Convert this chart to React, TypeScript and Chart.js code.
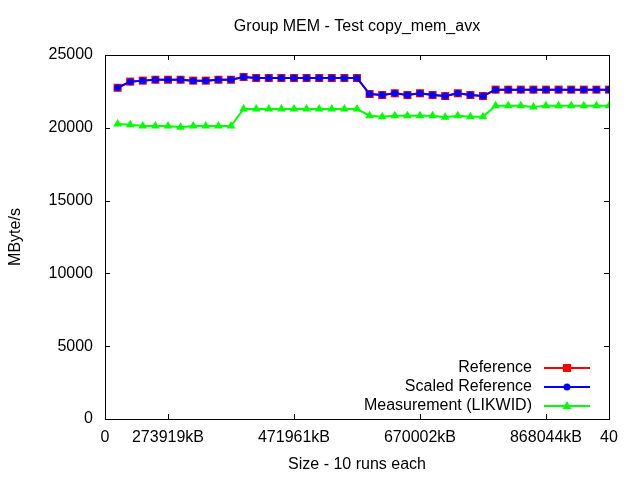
import React, { useEffect, useRef } from 'react';
import Chart from 'chart.js/auto';

const xPositions = [1, 2, 3, 4, 5, 6, 7, 8, 9, 10, 11, 12, 13, 14, 15, 16, 17, 18, 19, 20, 21, 22, 23, 24, 25, 26, 27, 28, 29, 30, 31, 32, 33, 34, 35, 36, 37, 38, 39, 40];

const referenceValues = [
  22750, 23170, 23240, 23300, 23300, 23300, 23240, 23240, 23300, 23300,
  23490, 23420, 23420, 23420, 23420, 23420, 23420, 23420, 23420, 23420,
  22320, 22250, 22370, 22250, 22370, 22250, 22180, 22370, 22250, 22180,
  22620, 22620, 22620, 22620, 22620, 22620, 22620, 22620, 22620, 22620,
];

const scaledReferenceValues = [
  22750, 23170, 23240, 23300, 23300, 23300, 23240, 23240, 23300, 23300,
  23490, 23420, 23420, 23420, 23420, 23420, 23420, 23420, 23420, 23420,
  22320, 22250, 22370, 22250, 22370, 22250, 22180, 22370, 22250, 22180,
  22620, 22620, 22620, 22620, 22620, 22620, 22620, 22620, 22620, 22620,
];

const measurementValues = [
  20260, 20210, 20120, 20120, 20120, 20030, 20120, 20120, 20120, 20120,
  21290, 21290, 21290, 21290, 21290, 21290, 21290, 21290, 21290, 21290,
  20830, 20760, 20830, 20830, 20830, 20830, 20720, 20830, 20760, 20760,
  21520, 21520, 21520, 21430, 21520, 21520, 21520, 21520, 21520, 21520,
];

const xTickValues = [0, 5, 15, 25, 35, 40];
const xTickLabels = ['0', '273919kB', '471961kB', '670002kB', '868044kB', '40'];
const yTickValues = [0, 5000, 10000, 15000, 20000, 25000];

const titleText = 'Group MEM - Test copy_mem_avx';
const xTitle = 'Size - 10 runs each';
const yTitle = 'MByte/s';
const seriesNames = ['Reference', 'Scaled Reference', 'Measurement (LIKWID)'];
const seriesColors = ['#ff0000', '#0000ff', '#00ff00'];

const FONT = "'Liberation Sans', Arial, sans-serif";

function drawMarker(ctx: CanvasRenderingContext2D, kind: number, x: number, y: number, color: string) {
  ctx.save();
  ctx.fillStyle = color;
  ctx.beginPath();
  if (kind === 0) {
    ctx.rect(x - 4, y - 4, 8, 8);
  } else if (kind === 1) {
    ctx.arc(x, y, 3.5, 0, Math.PI * 2);
  } else {
    ctx.moveTo(x, y - 5);
    ctx.lineTo(x + 4.5, y + 3);
    ctx.lineTo(x - 4.5, y + 3);
    ctx.closePath();
  }
  ctx.fill();
  ctx.restore();
}

const decorPlugin = {
  id: 'gnuplotDecor',
  afterDraw(chart: any) {
    const ctx: CanvasRenderingContext2D = chart.ctx;
    const { left, right, top, bottom } = chart.chartArea;
    const xs = chart.scales.x;
    const ys = chart.scales.y;
    ctx.save();
    // frame
    ctx.strokeStyle = '#000';
    ctx.lineWidth = 1;
    ctx.strokeRect(Math.round(left) + 0.5, Math.round(top) + 0.5, Math.round(right - left), Math.round(bottom - top));
    // tick marks
    ctx.beginPath();
    for (const v of yTickValues) {
      const py = Math.round(ys.getPixelForValue(v)) + 0.5;
      ctx.moveTo(left, py); ctx.lineTo(left + 5, py);
      ctx.moveTo(right, py); ctx.lineTo(right - 5, py);
    }
    for (const v of xTickValues) {
      const px = Math.round(xs.getPixelForValue(v)) + 0.5;
      ctx.moveTo(px, bottom); ctx.lineTo(px, bottom - 5);
      ctx.moveTo(px, top); ctx.lineTo(px, top + 5);
    }
    ctx.stroke();

    // titles
    ctx.fillStyle = '#000';
    ctx.font = `16px ${FONT}`;
    ctx.textAlign = 'center';
    ctx.textBaseline = 'middle';
    const cx = (left + right) / 2;
    ctx.fillText(titleText, cx, 27);
    ctx.fillText(xTitle, cx, 465);
    ctx.save();
    ctx.translate(16, (top + bottom) / 2);
    ctx.rotate(-Math.PI / 2);
    ctx.fillText(yTitle, 0, 0);
    ctx.restore();

    // legend
    const textRight = right - 77;
    const lineStart = right - 65;
    const lineEnd = right - 19;
    const markX = (lineStart + lineEnd) / 2;
    chart.data.datasets.forEach((ds: any, i: number) => {
      const y = bottom - 51 + i * 19;
      ctx.fillStyle = '#000';
      ctx.textAlign = 'right';
      ctx.textBaseline = 'middle';
      ctx.fillText(ds.label, textRight, y);
      ctx.strokeStyle = ds.borderColor;
      ctx.lineWidth = 2;
      ctx.beginPath();
      ctx.moveTo(lineStart, y);
      ctx.lineTo(lineEnd, y);
      ctx.stroke();
      drawMarker(ctx, i, markX, y, ds.borderColor);
    });
    ctx.restore();
  },
};

export default function App() {
  const canvasRef = useRef<HTMLCanvasElement | null>(null);

  useEffect(() => {
    document.body.style.margin = '0';
    const canvas = canvasRef.current;
    if (!canvas) return;
    const mk = (vals: number[]) => vals.map((v, i) => ({ x: xPositions[i], y: v }));
    const chart = new Chart(canvas, {
      type: 'line',
      data: {
        datasets: [
          {
            label: seriesNames[0],
            data: mk(referenceValues),
            borderColor: seriesColors[0],
            backgroundColor: seriesColors[0],
            borderWidth: 2,
            pointStyle: 'rect',
            pointRadius: 5.7,
            pointBorderWidth: 0,
            order: 3,
          },
          {
            label: seriesNames[1],
            data: mk(scaledReferenceValues),
            borderColor: seriesColors[1],
            backgroundColor: seriesColors[1],
            borderWidth: 2,
            pointStyle: 'circle',
            pointRadius: 3.5,
            pointBorderWidth: 0,
            order: 1,
          },
          {
            label: seriesNames[2],
            data: mk(measurementValues),
            borderColor: seriesColors[2],
            backgroundColor: seriesColors[2],
            borderWidth: 2,
            pointStyle: 'triangle',
            pointRadius: 5,
            pointBorderWidth: 0,
            order: 2,
          },
        ],
      },
      options: {
        animation: false,
        responsive: false,
        devicePixelRatio: 1,
        layout: { padding: { top: 55, right: 31, left: 0, bottom: 0 } },
        plugins: {
          legend: { display: false },
          title: { display: false },
          tooltip: { enabled: false },
        },
        scales: {
          x: {
            type: 'linear',
            min: 0,
            max: 40,
            grid: { display: false, drawTicks: false },
            border: { display: false },
            afterBuildTicks: (s: any) => {
              s.ticks = xTickValues.map((v) => ({ value: v }));
            },
            afterFit: (s: any) => {
              s.height = 61;
            },
            ticks: {
              autoSkip: false,
              maxRotation: 0,
              padding: 9,
              color: '#000',
              font: { family: FONT, size: 16 },
              callback: (v: any) => {
                const idx = xTickValues.indexOf(Number(v));
                return idx >= 0 ? xTickLabels[idx] : '';
              },
            },
          },
          y: {
            type: 'linear',
            min: 0,
            max: 25000,
            grid: { display: false, drawTicks: false },
            border: { display: false },
            afterBuildTicks: (s: any) => {
              s.ticks = yTickValues.map((v) => ({ value: v }));
            },
            afterFit: (s: any) => {
              s.width = 105;
            },
            ticks: {
              padding: 12,
              color: '#000',
              font: { family: FONT, size: 16 },
              callback: (v: any) => String(v),
            },
          },
        },
      },
      plugins: [decorPlugin],
    });
    return () => chart.destroy();
  }, []);

  return (
    <div style={{ width: 640, height: 480 }}>
      <canvas ref={canvasRef} width={640} height={480} style={{ display: 'block' }} />
    </div>
  );
}
